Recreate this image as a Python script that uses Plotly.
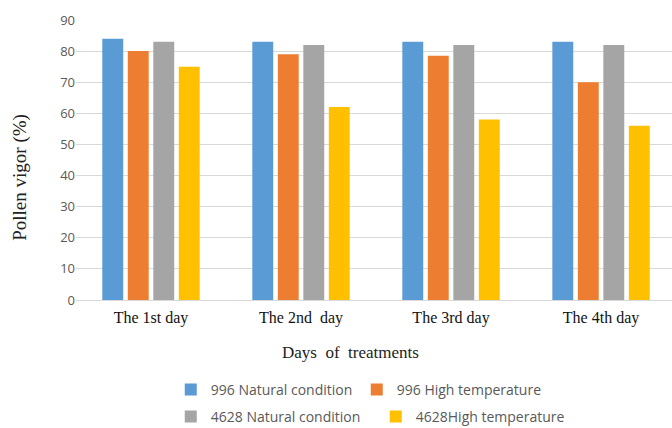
import plotly.graph_objects as go

days = ["The 1st day", "The 2nd  day", "The 3rd day", "The 4th day"]
series_names = ["996 Natural condition", "996 High temperature",
                "4628 Natural condition", "4628High temperature"]
v996_natural = [84, 83, 83, 83]
v996_high = [80, 79, 78.5, 70]
v4628_natural = [83, 82, 82, 82]
v4628_high = [75, 62, 58, 56]
colors = ["#5B9BD5", "#ED7D31", "#A5A5A5", "#FFC000"]

values = [v996_natural, v996_high, v4628_natural, v4628_high]
legend_ids = ["legend", "legend", "legend2", "legend2"]

fig = go.Figure()
for name, vals, col, lg in zip(series_names, values, colors, legend_ids):
    fig.add_trace(go.Bar(x=days, y=vals, name=name, marker_color=col,
                         marker_line_width=0, legend=lg))

serif = "Liberation Serif, Times New Roman, serif"
sans = "Open Sans, Liberation Sans, sans-serif"
legend_font = dict(family=sans, size=14, color="#595959")
fig.update_layout(
    width=672, height=428,
    margin=dict(l=76, r=0, t=20, b=128),
    plot_bgcolor="white", paper_bgcolor="white",
    barmode="group", bargap=0.32, bargroupgap=0.18,
    xaxis=dict(range=[-0.5, 3.473], showgrid=False, showline=True,
               linecolor="#d9d9d9", linewidth=1, ticks="", ticklabelstandoff=3,
               tickfont=dict(family=serif, size=16, color="#111")),
    yaxis=dict(range=[0, 90], dtick=10, showgrid=True, gridcolor="#d9d9d9",
               gridwidth=1, zeroline=False, showline=False, ticks="",
               tickfont=dict(family=sans, size=13, color="#595959")),
    legend=dict(orientation="h", x=0.159, xanchor="left",
                yref="container", y=1 - 390 / 428, yanchor="middle",
                font=legend_font, entrywidth=141, itemwidth=30, traceorder="normal"),
    legend2=dict(orientation="h", x=0.159, xanchor="left",
                 yref="container", y=1 - 417 / 428, yanchor="middle",
                 font=legend_font, entrywidth=160, itemwidth=30, traceorder="normal"),
    annotations=[
        dict(text="Days  of  treatments", xref="paper", yref="paper",
             x=0.46, y=-0.186, xanchor="center", yanchor="middle", showarrow=False,
             font=dict(family=serif, size=17, color="#222")),
        dict(text="Pollen vigor (%)", xref="paper", yref="paper",
             x=-0.094, y=0.44, xanchor="center", yanchor="middle", showarrow=False,
             textangle=-90, font=dict(family=serif, size=19, color="#222")),
    ],
)

fig.write_html("out.html", config={"displayModeBar": False},
               post_script="document.body.style.margin='0';document.body.style.overflow='hidden';")
